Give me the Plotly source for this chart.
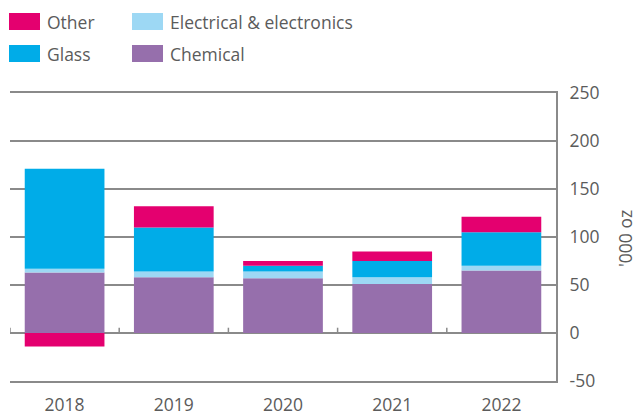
import plotly.graph_objects as go

years = ["2018", "2019", "2020", "2021", "2022"]
chemical = [63, 58, 57, 51, 65]
electrical = [4, 6, 7, 7, 5]
glass = [104, 46, 6, 17, 35]
other = [-14, 22, 5, 10, 16]

y_ticks = [-50, 0, 50, 100, 150, 200, 250]
y_tick_labels = ["-50", "0", "50", "100", "150", "200", "250"]
y_title = "'000 oz"

series = [
    ("Chemical", chemical, "#966fac"),
    ("Electrical & electronics", electrical, "#9dd8f4"),
    ("Glass", glass, "#00ace8"),
    ("Other", other, "#e4006f"),
]

W, H = 638, 416
L, R, T, B = 10, 82, 93, 35
PW, PH = W - L - R, H - T - B
FONT = "Open Sans"
FS = 17.5
TXT = "#5b5b5b"
GRID = "#8a8a8a"


def px(x):
    return (x - L) / PW


def py(y):
    return (H - B - y) / PH


fig = go.Figure()
for name, vals, col in series:
    fig.add_trace(go.Bar(x=years, y=vals, name=name, marker_color=col,
                         marker_line_width=0, showlegend=False))

shapes = []
# category boundary ticks on the zero line
for i in range(len(years)):
    shapes.append(dict(type="line", xref="x", yref="y", x0=i - 0.5, x1=i - 0.5,
                       y0=0, y1=5.5, line=dict(color=GRID, width=1.5), layer="below"))

# manual legend
legend_items = [
    ("Other", "#e4006f", 9, 13),
    ("Electrical & electronics", "#9dd8f4", 132, 13),
    ("Glass", "#00ace8", 9, 45),
    ("Chemical", "#966fac", 132, 45),
]
annotations = []
for name, col, lx, ly in legend_items:
    shapes.append(dict(type="rect", xref="paper", yref="paper",
                       x0=px(lx), x1=px(lx + 31), y0=py(ly), y1=py(ly + 17),
                       fillcolor=col, line=dict(width=0)))
    annotations.append(dict(xref="paper", yref="paper", x=px(lx + 36), y=py(ly + 9),
                            text=name, showarrow=False, xanchor="left", yanchor="middle",
                            font=dict(family=FONT, size=FS, color=TXT)))

annotations.append(dict(xref="paper", yref="paper", x=px(625), y=py(239), text=y_title,
                        textangle=-90, showarrow=False, xanchor="center", yanchor="middle",
                        font=dict(family=FONT, size=FS, color=TXT)))

fig.update_layout(
    width=W, height=H, autosize=False,
    margin=dict(l=L, r=R, t=T, b=B, pad=0, autoexpand=False),
    plot_bgcolor="white", paper_bgcolor="white",
    barmode="relative", bargap=0.27,
    shapes=shapes, annotations=annotations,
    font=dict(family=FONT, color=TXT),
    xaxis=dict(range=[-0.5, len(years) - 0.5], showgrid=False, zeroline=False,
               showline=True, mirror=True, linecolor=GRID, linewidth=1.5,
               ticks="outside", ticklen=7, tickcolor="rgba(0,0,0,0)",
               automargin=False,
               tickfont=dict(family=FONT, size=FS, color=TXT)),
    yaxis=dict(side="right", range=[-50, 250], tickvals=y_ticks, ticktext=y_tick_labels,
               showgrid=True, gridcolor=GRID, gridwidth=1.5, zeroline=False,
               showline=True, linecolor=GRID, linewidth=2, automargin=False,
               ticks="outside", ticklen=8, tickcolor="rgba(0,0,0,0)",
               tickfont=dict(family=FONT, size=FS, color=TXT)),
)

fig.write_html("out.html", config={"displayModeBar": False},
               post_script="document.body.style.margin='0';")
